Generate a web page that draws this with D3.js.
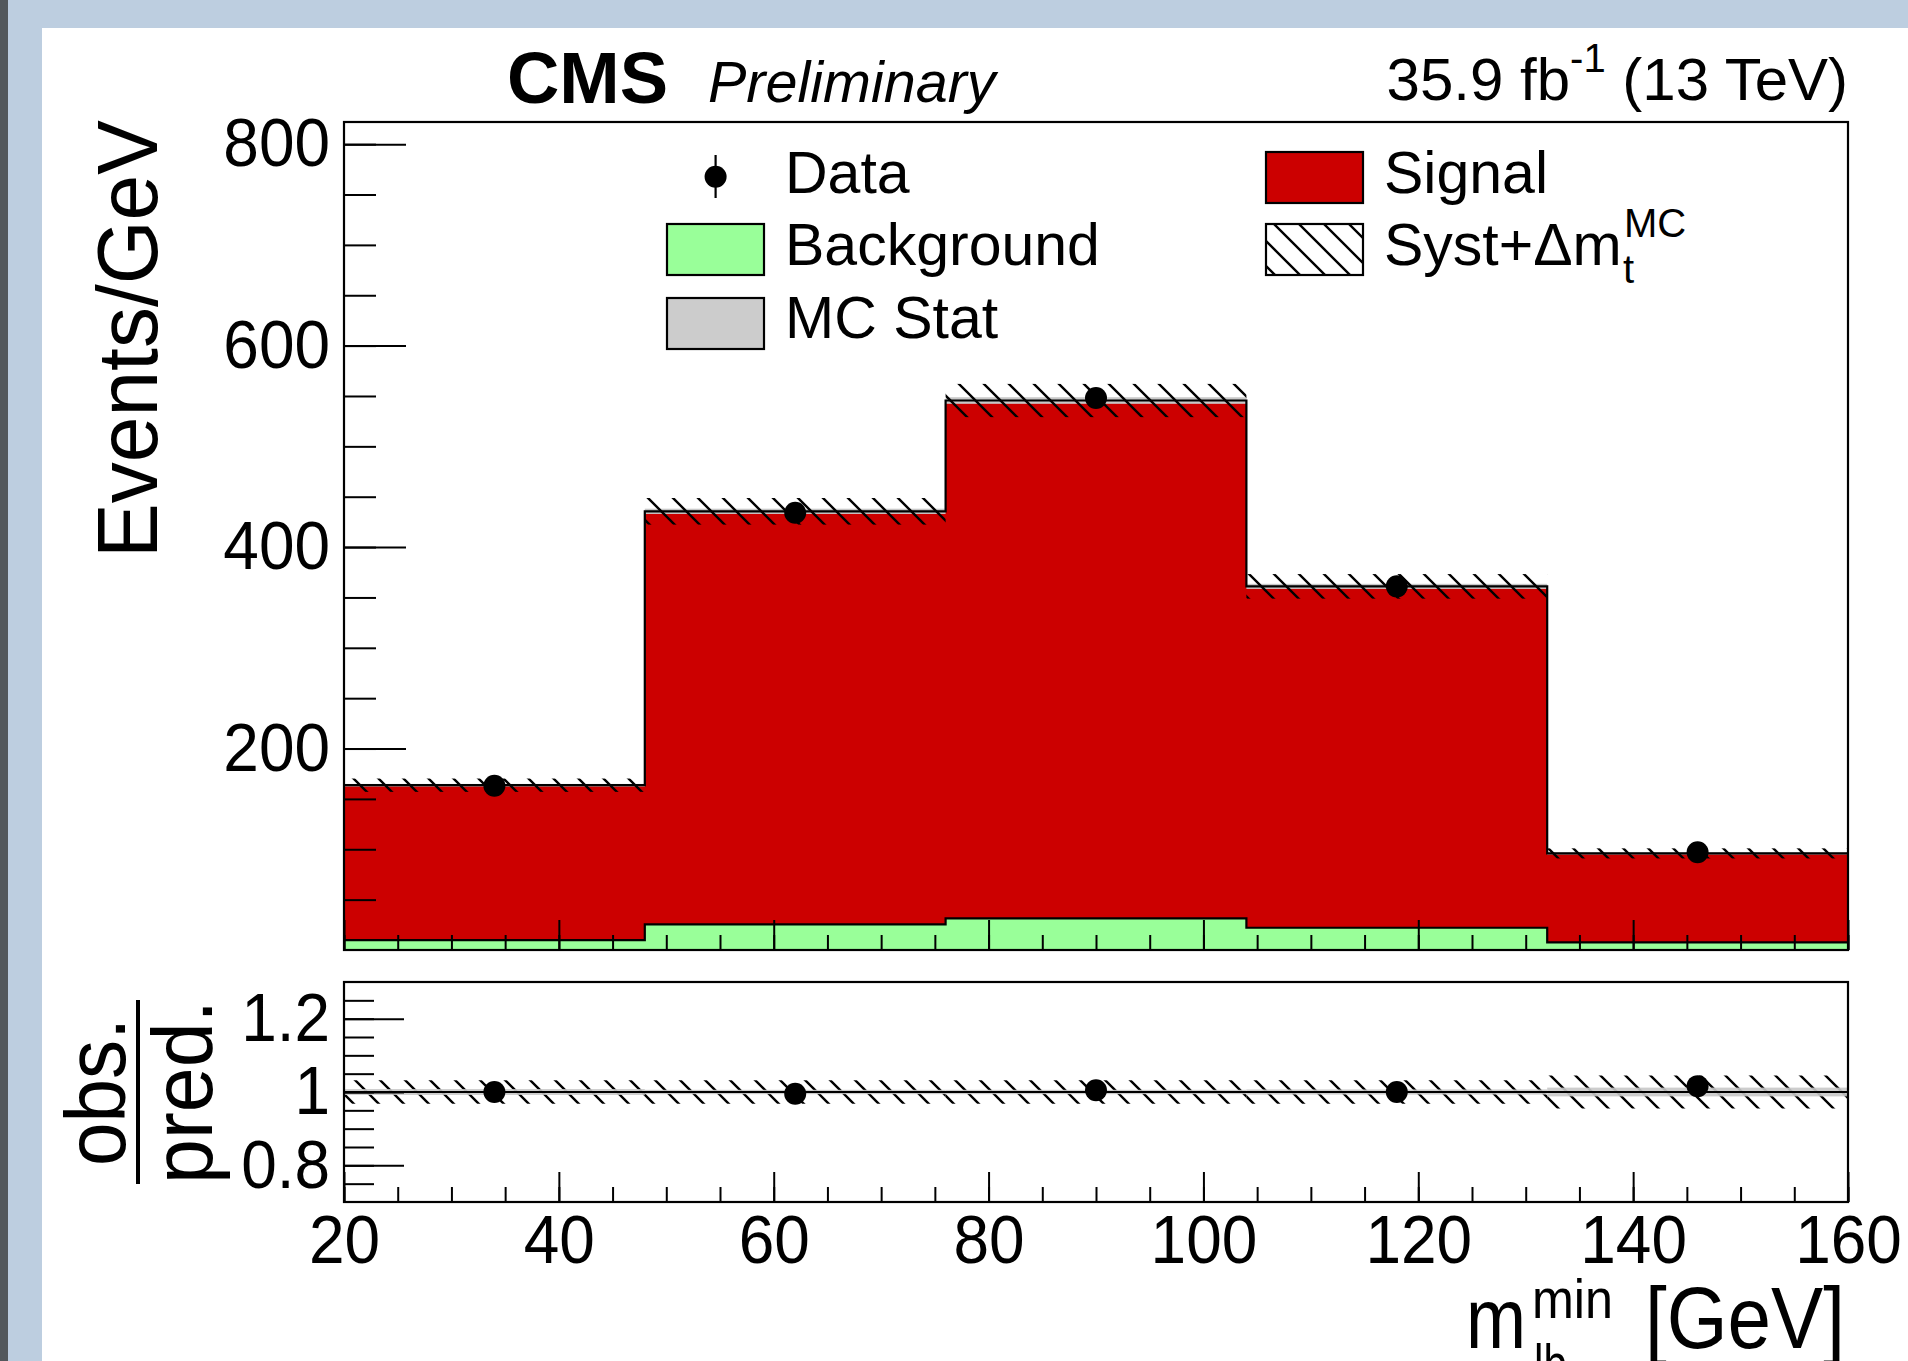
<!DOCTYPE html>
<html>
<head>
<meta charset="utf-8">
<script src="https://cdn.jsdelivr.net/npm/d3@7"></script>
<style>
  body { margin: 0; background: #fff; }
  svg { display: block; }
  text { font-family: 'Liberation Sans', Arial, Helvetica, sans-serif; fill: #000; }
</style>
</head>
<body>
<div id="chart"></div>
<script>
// m_lb^min binning [GeV] and per-bin contents (Events/GeV)
const binEdges = [20, 48, 76, 104, 132, 160];
const dataValues = [163, 434, 548, 361, 97];
const signalValues = [153.7, 410, 514.1, 338.9, 88.3];
const backgroundValues = [9.9, 25.5, 31.4, 22.1, 7.6];
const systValues = [6.6, 13.2, 16.5, 12.2, 5.0]; // Syst + dm_t^MC, absolute
const mcStatRel = [0.008, 0.006, 0.006, 0.007, 0.012];
// lower pad
const ratioValues = [1.0, 0.995, 1.005, 1.0, 1.016];
const ratioSystRel = [0.032, 0.032, 0.032, 0.032, 0.045];

// ticks
const xMajorTicks = [20, 40, 60, 80, 100, 120, 140, 160];
const xMinorTicks = d3.range(20, 161, 5);
const yMajorTicks = [200, 400, 600, 800];
const yMinorTicks = d3.range(50, 801, 50);
const ratioMajorTicks = [0.8, 1, 1.2];
const ratioMinorTicks = d3.range(0.75, 1.26, 0.05);
const legendLabels = ['Data', 'Background', 'MC Stat', 'Signal'];

const W = 1908, H = 1361;
const padLeft = 344, padRight = 1848;
const upper = { top: 122, bottom: 950 };
const lower = { top: 982, bottom: 1202 };

const totals = signalValues.map((s, i) => s + backgroundValues[i]);
const bins = dataValues.map((d, i) => ({
  lo: binEdges[i], hi: binEdges[i + 1], mid: (binEdges[i] + binEdges[i + 1]) / 2,
  data: d, total: totals[i], syst: systValues[i], mcStat: mcStatRel[i] * totals[i],
  ratio: ratioValues[i], rSyst: ratioSystRel[i], rStat: mcStatRel[i]
}));

const svg = d3.select('#chart').append('svg').attr('width', W).attr('height', H);

/***** PAGE BACKGROUND *****/
svg.append('rect').attr('width', W).attr('height', H).attr('fill', '#fff');
svg.append('rect').attr('x', 8).attr('width', W - 8).attr('height', 28).attr('fill', '#bdcee0');
svg.append('rect').attr('x', 8).attr('width', 34).attr('height', H).attr('fill', '#bdcee0');
svg.append('rect').attr('width', 8).attr('height', H).attr('fill', '#53585c');

const defs = svg.append('defs');
defs.append('pattern')
  .attr('id', 'hatch')
  .attr('patternUnits', 'userSpaceOnUse')
  .attr('width', 25).attr('height', 25)
  .append('path')
  .attr('d', 'M0,0 L25,25 M-5,20 L5,30 M20,-5 L30,5')
  .attr('stroke', '#000')
  .attr('stroke-width', 2.4);

/***** SCALES *****/
const x = d3.scaleLinear().domain([20, 160]).range([padLeft, padRight]);
const y = d3.scaleLinear().domain([0, 1.5 * d3.max(dataValues)]).range([upper.bottom, upper.top]);
const yr = d3.scaleLinear().domain([0.7, 1.3]).range([lower.bottom, lower.top]);

const steps = (vals) => binEdges.map((e, i) => [e, vals[Math.min(i, vals.length - 1)]]);
const area = d3.area().curve(d3.curveStepAfter).x((d) => x(d[0])).y0(y(0)).y1((d) => y(d[1]));
const outline = d3.line().curve(d3.curveStepAfter).x((d) => x(d[0])).y((d) => y(d[1]));

/***** UPPER PAD *****/
const upperPad = svg.append('g');

upperPad.append('path').attr('d', area(steps(totals))).attr('fill', '#cc0000');
upperPad.append('path').attr('d', area(steps(backgroundValues))).attr('fill', '#99ff99');

// MC stat band
upperPad.selectAll('.stat')
  .data(bins)
  .enter()
  .append('rect')
  .attr('x', (d) => x(d.lo))
  .attr('width', (d) => x(d.hi) - x(d.lo))
  .attr('y', (d) => y(d.total + d.mcStat))
  .attr('height', (d) => y(d.total - d.mcStat) - y(d.total + d.mcStat))
  .attr('fill', '#c8c8c8');

upperPad.append('path').attr('d', outline(steps(totals))).attr('fill', 'none').attr('stroke', '#000').attr('stroke-width', 2.2);
upperPad.append('path').attr('d', outline(steps(backgroundValues))).attr('fill', 'none').attr('stroke', '#000').attr('stroke-width', 2.2);

// syst band
upperPad.selectAll('.syst')
  .data(bins)
  .enter()
  .append('rect')
  .attr('x', (d) => x(d.lo))
  .attr('width', (d) => x(d.hi) - x(d.lo))
  .attr('y', (d) => y(d.total + d.syst))
  .attr('height', (d) => y(d.total - d.syst) - y(d.total + d.syst))
  .attr('fill', 'url(#hatch)');

upperPad.selectAll('.data')
  .data(bins)
  .enter()
  .append('circle')
  .attr('cx', (d) => x(d.mid))
  .attr('cy', (d) => y(d.data))
  .attr('r', 11)
  .attr('fill', '#000');

/***** LOWER PAD *****/
const lowerPad = svg.append('g');

lowerPad.selectAll('.rsyst')
  .data(bins)
  .enter()
  .append('rect')
  .attr('x', (d) => x(d.lo))
  .attr('width', (d) => x(d.hi) - x(d.lo))
  .attr('y', (d) => yr(1 + d.rSyst))
  .attr('height', (d) => yr(1 - d.rSyst) - yr(1 + d.rSyst))
  .attr('fill', 'url(#hatch)');

lowerPad.selectAll('.rstat')
  .data(bins)
  .enter()
  .append('rect')
  .attr('x', (d) => x(d.lo))
  .attr('width', (d) => x(d.hi) - x(d.lo))
  .attr('y', (d) => yr(1 + d.rStat))
  .attr('height', (d) => yr(1 - d.rStat) - yr(1 + d.rStat))
  .attr('fill', '#c8c8c8')
  .attr('opacity', 0.9);

lowerPad.append('line')
  .attr('x1', x(20)).attr('x2', x(160))
  .attr('y1', yr(1)).attr('y2', yr(1))
  .attr('stroke', '#000').attr('stroke-width', 2.2);

lowerPad.selectAll('.ratio')
  .data(bins)
  .enter()
  .append('circle')
  .attr('cx', (d) => x(d.mid))
  .attr('cy', (d) => yr(d.ratio))
  .attr('r', 11)
  .attr('fill', '#000');

/***** AXES *****/
// ROOT's Helvetica is a bit narrower than Liberation Sans: set a taller font and squeeze it back
const tidy = (g, size) => {
  g.select('.domain').remove();
  g.attr('font-family', null).attr('font-size', null);
  g.selectAll('line').attr('stroke', '#000').attr('stroke-width', 2);
  g.selectAll('text').attr('font-size', size).each(function () {
    const w = this.getComputedTextLength();
    if (w > 0) d3.select(this).attr('textLength', w * 0.94).attr('lengthAdjust', 'spacingAndGlyphs');
  });
};

const xAxes = (yPos, labels) => {
  svg.append('g').attr('transform', `translate(0,${yPos})`)
    .call(d3.axisBottom(x).tickValues(xMinorTicks).tickSize(-15).tickFormat(''))
    .call((g) => tidy(g, 0));
  svg.append('g').attr('transform', `translate(0,${yPos})`)
    .call(d3.axisBottom(x).tickValues(xMajorTicks).tickSize(-30).tickPadding(13)
      .tickFormat(labels ? d3.format('d') : ''))
    .call((g) => tidy(g, 68));
};
xAxes(upper.bottom, false);
xAxes(lower.bottom, true);

svg.append('g').attr('transform', `translate(${padLeft},0)`)
  .call(d3.axisLeft(y).tickValues(yMinorTicks).tickSize(-32).tickFormat(''))
  .call((g) => tidy(g, 0));
svg.append('g').attr('transform', `translate(${padLeft},0)`)
  .call(d3.axisLeft(y).tickValues(yMajorTicks).tickSize(-62).tickPadding(14))
  .call((g) => tidy(g, 68));

svg.append('g').attr('transform', `translate(${padLeft},0)`)
  .call(d3.axisLeft(yr).tickValues(ratioMinorTicks).tickSize(-30).tickFormat(''))
  .call((g) => tidy(g, 0));
svg.append('g').attr('transform', `translate(${padLeft},0)`)
  .call(d3.axisLeft(yr).tickValues(ratioMajorTicks).tickSize(-60).tickPadding(14).tickFormat(d3.format('~g')))
  .call((g) => tidy(g, 68));

// pad frames
[upper, lower].forEach((p) => {
  svg.append('rect')
    .attr('x', padLeft).attr('y', p.top)
    .attr('width', padRight - padLeft).attr('height', p.bottom - p.top)
    .attr('fill', 'none').attr('stroke', '#000').attr('stroke-width', 2.2);
});

/***** TITLES *****/
svg.append('text')
  .attr('transform', 'translate(157,120) rotate(-90)')
  .attr('text-anchor', 'end')
  .attr('font-size', 86)
  .attr('textLength', 438).attr('lengthAdjust', 'spacingAndGlyphs')
  .text('Events/GeV');

// obs./pred. fraction
const midR = yr(1);
svg.append('text')
  .attr('transform', `translate(125,${midR}) rotate(-90)`)
  .attr('text-anchor', 'middle').attr('font-size', 86)
  .attr('textLength', 148).attr('lengthAdjust', 'spacingAndGlyphs')
  .text('obs.');
svg.append('text')
  .attr('transform', `translate(212,${midR}) rotate(-90)`)
  .attr('text-anchor', 'middle').attr('font-size', 86)
  .attr('textLength', 184).attr('lengthAdjust', 'spacingAndGlyphs')
  .text('pred.');
svg.append('rect').attr('x', 136).attr('y', midR - 92).attr('width', 4).attr('height', 184).attr('fill', '#000');

// x title: m_lb^min [GeV] (cut by the bottom edge, as in the original)
const xt = svg.append('g');
xt.append('text').attr('x', 1466).attr('y', 1348).attr('font-size', 86)
  .attr('textLength', 60).attr('lengthAdjust', 'spacingAndGlyphs').text('m');
xt.append('text').attr('x', 1532).attr('y', 1318).attr('font-size', 56)
  .attr('textLength', 81).attr('lengthAdjust', 'spacingAndGlyphs').text('min');
xt.append('text').attr('x', 1534).attr('y', 1383).attr('font-size', 56)
  .attr('textLength', 33).attr('lengthAdjust', 'spacingAndGlyphs').text('lb');
xt.append('text').attr('x', 1645).attr('y', 1348).attr('font-size', 88)
  .attr('textLength', 200).attr('lengthAdjust', 'spacingAndGlyphs').text('[GeV]');

// CMS header
svg.append('text').attr('x', 507).attr('y', 103).attr('font-size', 72.5).attr('font-weight', 'bold').text('CMS');
svg.append('text').attr('x', 708).attr('y', 102).attr('font-size', 57.5).attr('font-style', 'italic').text('Preliminary');

const lumi = svg.append('text').attr('x', padRight).attr('y', 100).attr('text-anchor', 'end').attr('font-size', 60);
lumi.append('tspan').text('35.9 fb');
lumi.append('tspan').attr('dy', -28).attr('font-size', 40).text('-1');
lumi.append('tspan').attr('dy', 28).text(' (13 TeV)');

/***** LEGEND *****/
const leg = svg.append('g');
leg.append('line').attr('x1', 715.6).attr('x2', 715.6).attr('y1', 155).attr('y2', 198).attr('stroke', '#000').attr('stroke-width', 2.2);
leg.append('circle').attr('cx', 715.6).attr('cy', 176.7).attr('r', 11).attr('fill', '#000');

const legBoxes = [
  { x: 667, y: 224, fill: '#99ff99' },
  { x: 667, y: 298, fill: '#cccccc' },
  { x: 1266, y: 152, fill: '#cc0000' },
  { x: 1266, y: 224, fill: 'url(#hatch)' }
];
leg.selectAll('.box')
  .data(legBoxes)
  .enter()
  .append('rect')
  .attr('x', (d) => d.x).attr('y', (d) => d.y)
  .attr('width', 97).attr('height', 51)
  .attr('fill', (d) => d.fill)
  .attr('stroke', '#000').attr('stroke-width', 2.2);

const legText = [
  { x: 785, y: 193, t: legendLabels[0] },
  { x: 785, y: 265, t: legendLabels[1] },
  { x: 785, y: 338, t: legendLabels[2] },
  { x: 1384, y: 193, t: legendLabels[3] }
];
leg.selectAll('.lt')
  .data(legText)
  .enter()
  .append('text')
  .attr('x', (d) => d.x).attr('y', (d) => d.y)
  .attr('font-size', 59)
  .text((d) => d.t);

leg.append('text').attr('x', 1384).attr('y', 265).attr('font-size', 59).text('Syst+\u0394m');
leg.append('text').attr('x', 1624).attr('y', 237).attr('font-size', 40).text('MC');
leg.append('text').attr('x', 1623).attr('y', 283).attr('font-size', 40).text('t');
</script>
</body>
</html>
